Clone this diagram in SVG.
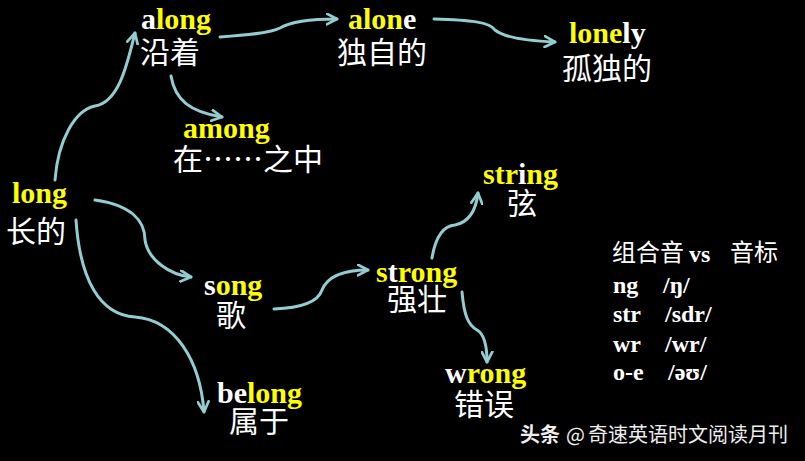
<svg xmlns="http://www.w3.org/2000/svg" width="805" height="461" viewBox="0 0 805 461">
<style>
.en{font-family:"Liberation Serif","Times New Roman",serif;font-weight:bold;font-size:30px;fill:#FFFF00}
.w{fill:#FFFFFF}
.zh{font-family:"Noto Sans CJK SC","Noto Sans",sans-serif;font-size:30px;fill:#FFFFFF}
.lg{font-family:"Liberation Serif","Times New Roman",serif;font-weight:bold;font-size:24px;fill:#FFFFFF}
.lz{font-family:"Noto Sans CJK SC","Noto Sans",sans-serif;font-size:24px;fill:#FFFFFF}
.wm{font-family:"Noto Sans CJK SC","Noto Sans",sans-serif;font-size:20px;fill:#EEEEEE}
.c{fill:none;stroke:#93CDD1;stroke-width:3;stroke-linecap:round;marker-end:url(#ah)}
</style>
<defs>
<marker id="ah" viewBox="0 0 12 12" refX="10.5" refY="6" markerWidth="13" markerHeight="13" markerUnits="userSpaceOnUse" orient="auto">
<path d="M1,1 L10.5,6 L1,11" fill="none" stroke="#93CDD1" stroke-width="2.5" stroke-linecap="round" stroke-linejoin="round"/>
</marker>
</defs>
<rect x="0" y="0" width="805" height="461" fill="#000000"/>
<g id="connectors">
<path class="c" d="M55,180 C58,140 75,110 95,106 C120,102 128,60 135,33"/>
<path class="c" d="M220,37 C250,35 270,33 280,28 C290,22 310,19 337,19"/>
<path class="c" d="M171,76 C175,100 190,112 222,117"/>
<path class="c" d="M434,19 C470,20 490,22 495,30 C505,38 530,41 555,42"/>
<path class="c" d="M95,200 C130,205 145,220 145,240 C148,260 170,275 191,277"/>
<path class="c" d="M76,220 C80,280 100,315 135,317 C175,320 200,360 204,412"/>
<path class="c" d="M274,309 C300,308 318,302 322,290 C328,275 345,270 368,270"/>
<path class="c" d="M432,258 C435,240 442,226 455,225 C470,222 476,210 478,193"/>
<path class="c" d="M462,292 C464,315 468,325 477,330 C486,335 487,350 487,362"/>
</g>
<g id="node-long">
<text class="en" x="12" y="203">long</text>
<text class="zh" x="6" y="242">长的</text>
</g>
<g id="node-along">
<text class="en w" x="141" y="29">a</text>
<text class="en" x="156" y="29">long</text>
<text class="zh" x="140" y="63">沿着</text>
</g>
<g id="node-alone">
<text class="en" x="348" y="29">alon</text>
<text class="en w" x="403" y="29">e</text>
<text class="zh" x="337" y="63">独自的</text>
</g>
<g id="node-lonely">
<text class="en" x="569" y="43">lone</text>
<text class="en w" x="622.3" y="43">ly</text>
<text class="zh" x="562" y="79">孤独的</text>
</g>
<g id="node-among">
<text class="en" x="183" y="138">among</text>
<text class="zh" x="173" y="170">在……之中</text>
</g>
<g id="node-song">
<text class="en w" x="204" y="295">s</text>
<text class="en" x="215.7" y="295">ong</text>
<text class="zh" x="216" y="326">歌</text>
</g>
<g id="node-belong">
<text class="en w" x="217" y="403">be</text>
<text class="en" x="247" y="403">long</text>
<text class="zh" x="229" y="432">属于</text>
</g>
<g id="node-strong">
<text class="en" x="376" y="282">s</text>
<text class="en w" x="387.7" y="282">t</text>
<text class="en" x="397.7" y="282">rong</text>
<text class="zh" x="387" y="310">强壮</text>
</g>
<g id="node-string">
<text class="en" x="483" y="184">str</text>
<text class="en w" x="518" y="184">i</text>
<text class="en" x="526.3" y="184">ng</text>
<text class="zh" x="507" y="214">弦</text>
</g>
<g id="node-wrong">
<text class="en w" x="445" y="383">w</text>
<text class="en" x="466.7" y="383">rong</text>
<text class="zh" x="454" y="415">错误</text>
</g>
<g id="legend">
<text class="lz" x="612" y="261">组合音</text>
<text class="lg" x="689" y="262">vs</text>
<text class="lz" x="730" y="261">音标</text>
<text class="lg" x="613" y="293">ng</text>
<text class="lg" x="663" y="293">/ŋ/</text>
<text class="lg" x="613" y="322">str</text>
<text class="lg" x="665" y="322">/sdr/</text>
<text class="lg" x="613" y="352">wr</text>
<text class="lg" x="665" y="352">/wr/</text>
<text class="lg" x="613" y="380">o-e</text>
<text class="lg" x="668" y="380">/əʊ/</text>
</g>
<g id="watermark">
<text class="wm" x="520" y="442" font-weight="bold">头条</text>
<text class="wm" x="566" y="442">@</text>
<text class="wm" x="588" y="442">奇速英语时文阅读月刊</text>
</g>
</svg>
